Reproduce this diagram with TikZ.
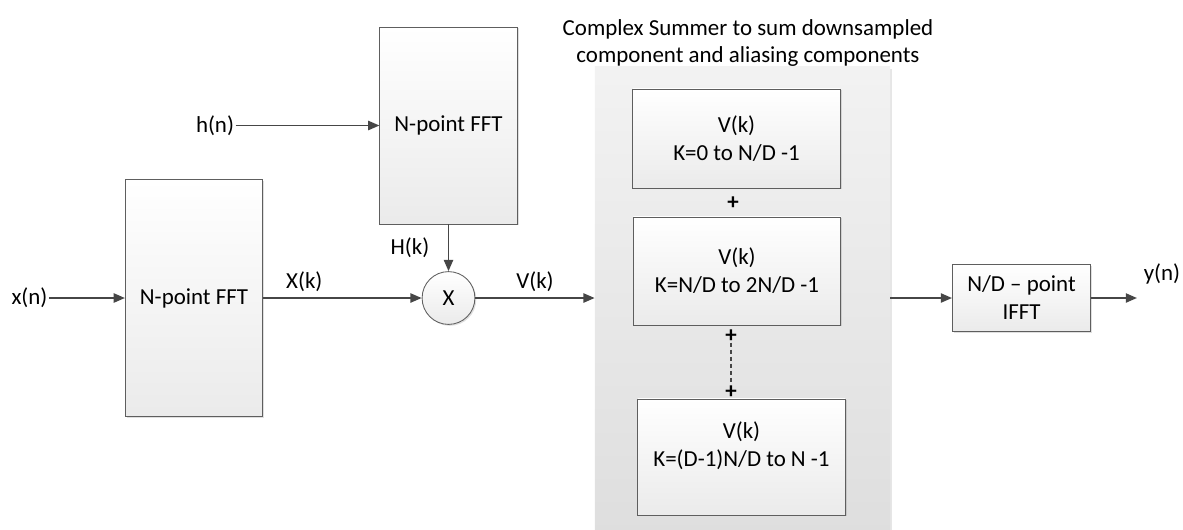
\documentclass[tikz,border=0pt]{standalone}
\usepackage{fontspec}
\setmainfont{Carlito}
\usetikzlibrary{arrows.meta,positioning,shadows}

\definecolor{edgegray}{HTML}{5E5E5E}
\definecolor{wiregray}{HTML}{464646}

\begin{document}
\begin{tikzpicture}[
  x=0.025cm, y=-0.025cm,
  font=\fontsize{16.3}{19.9}\selectfont,
  blk/.style={draw=edgegray, rectangle, align=center, inner sep=2pt, line width=0.6pt,
    top color=white, bottom color=black!8,
    drop shadow={shadow xshift=1pt, shadow yshift=-1pt, opacity=0.25}},
  fft/.style={blk, minimum width=3.43cm},
  part/.style={blk, minimum width=5.18cm},
  mixer/.style={blk, circle, minimum size=1.32cm, inner sep=0pt},
  sig/.style={inner sep=1pt},
  ptr/.style={-{Triangle[length=8pt,width=6.5pt]}, draw=wiregray, line width=1.4pt},
  plus/.style={inner sep=0pt, font=\fontsize{16.3}{19.9}\selectfont\bfseries}
]
\useasboundingbox (0,0) rectangle (1183,529);

% complex summer panel and its caption
\node[top color=black!5, bottom color=black!13, minimum width=7.375cm, minimum height=11.825cm,
  drop shadow={shadow xshift=1.5pt, shadow yshift=-1.5pt, opacity=0.2}] (summer) at (742.5,303.5) {};
\node[align=center] (title) at (748,43) {Complex Summer to sum downsampled\\component and aliasing components};

% FFT stages and multiplier
\node[fft, minimum height=5.925cm] (fftx) at (194,298) {N-point FFT};
\node[fft, minimum height=4.925cm] (ffth) at (448.5,125.5) {N-point FFT};
\node[mixer] (mult) at (448.5,298) {X};
\node[sig] (xin) at (29.5,298) {x(n)};
\node[sig] (hin) at (215,125.5) {h(n)};

% partial sums inside the summer
\node[part, minimum height=2.475cm] (p1) at (736.5,138.5) {V(k)\\K=0 to N/D -1};
\node[part, minimum height=2.7cm] (p2) at (737,271) {V(k)\\K=N/D to 2N/D -1};
\node[part, minimum height=2.9cm] (p3) at (741.5,457) {V(k)\\K=(D-1)N/D to N -1\rule[-18pt]{0pt}{18pt}};
\node[plus] (s1) at (733,203) {+};
\node[plus] (s2) at (731,336) {+};
\node[plus] (s3) at (731,392) {+};
\draw[wiregray, line width=1.3pt, dash pattern=on 3pt off 2pt] (s2) -- (s3);

% output stage
\node[blk, minimum width=3.45cm, minimum height=1.675cm] (ifft) at (1021.5,298) {N/D – point\\IFFT};
\coordinate (yend) at (1137,298);
\node[sig] (yout) at (1162,274) {y(n)};

% signal flow
\draw[ptr] (xin) -- (fftx);
\draw[ptr] (hin) -- (ffth);
\draw[ptr] (fftx) -- node[sig, above=3pt, pos=0.26] (xk) {X(k)} (mult);
\draw[ptr] (ffth) -- node[sig, left=12pt] (hk) {H(k)} (mult);
\draw[ptr] (mult) -- node[sig, above=3pt] (vk) {V(k)} (mult -| summer.west);
\draw[ptr] (summer.east |- ifft) -- (ifft);
\draw[ptr] (ifft) -- (yend);
\end{tikzpicture}
\end{document}
